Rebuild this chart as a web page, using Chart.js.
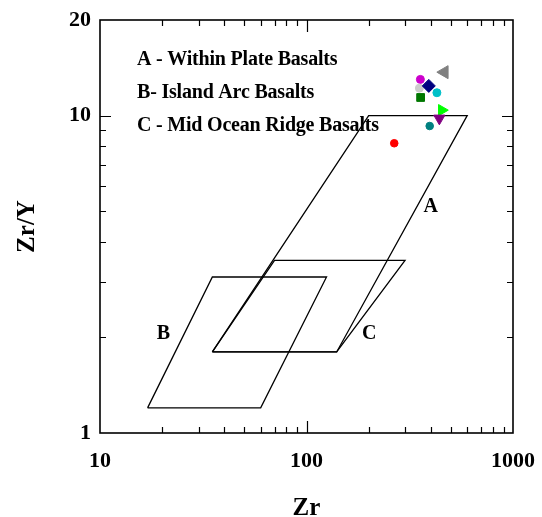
<!DOCTYPE html>
<html lang="en">
<head>
<meta charset="UTF-8">
<title>Zr/Y vs Zr</title>
<script src="https://cdn.jsdelivr.net/npm/chart.js@4"></script>
<style>
html,body{margin:0;padding:0;background:#fff}
#wrap{position:relative;width:542px;height:517px}
</style>
</head>
<body>
<div id="wrap"><canvas id="chart"></canvas></div>
<script>
// samples: Zr (ppm) and Zr/Y
const sampleZr  = [465, 356, 352, 391, 428, 357, 452, 440, 395, 266];
const sampleZrY = [13.7, 13.0, 12.2, 12.4, 11.8, 11.4, 10.4, 9.8, 9.27, 8.18];

// discrimination fields, closed outlines
const fieldAZr  = [35, 140, 600, 200, 35];
const fieldAZrY = [1.8, 1.8, 10, 10, 1.8];
const fieldBZr  = [17, 60, 125, 35, 17];
const fieldBZrY = [1.2, 1.2, 3.1, 3.1, 1.2];
const fieldCZr  = [35, 140, 300, 70, 35];
const fieldCZrY = [1.8, 1.8, 3.5, 3.5, 1.8];

// field letters and where they sit (data units)
const fieldNames = ['A', 'B', 'C'];
const fieldNameZr  = [400, 20.3, 201];
const fieldNameZrY = [5.17, 2.05, 2.05];
const fieldKey = ['A - Within Plate Basalts', 'B- Island Arc Basalts', 'C - Mid Ocean Ridge Basalts'];

const xTicks = [10, 100, 1000];
const yTicks = [1, 10, 20];

// marker look per sample
const sampleShape = ['triangle', 'circle', 'circle', 'rectRot', 'circle', 'rect', 'triangle', 'triangle', 'circle', 'circle'];
const sampleRot   = [-90, 0, 0, 0, 0, 0, 90, 180, 0, 0];
const sampleColor = ['#808080', '#cc00cc', '#cccccc', '#000080', '#00c0c8', '#007800', '#00ff00', '#800080', '#008080', '#ff0000'];
const sampleSize  = [7.5, 4, 4, 6.5, 4, 5.5, 6.5, 6.5, 3.8, 3.8];

const SERIF = '"Liberation Serif", "Times New Roman", serif';

function outline(xs, ys) {
  return {
    type: 'scatter',
    data: xs.map((v, i) => ({x: v, y: ys[i]})),
    showLine: true,
    borderColor: '#000',
    borderWidth: 1.3,
    pointRadius: 0,
    fill: false,
    tension: 0,
    order: 1
  };
}

// keep the plot box fixed: no extra room for overhanging labels
function noPad(s) {
  s.paddingLeft = 0; s.paddingRight = 0;
  s.paddingTop = 0; s.paddingBottom = 0;
}

// frame, inward log ticks, field letters and the key
const decor = {
  id: 'decor',
  afterDatasetsDraw(chart) {
    const {ctx, chartArea: a, scales: {x, y}} = chart;
    ctx.save();
    ctx.strokeStyle = '#000';
    ctx.lineWidth = 1.2;
    ctx.beginPath();
    for (const d of [10, 100]) {
      for (let k = 1; k <= 9; k++) {
        const v = k * d;
        if (v === 10) continue;
        const px = Math.round(x.getPixelForValue(v)) + 0.5;
        const len = k === 1 ? 12 : 6;
        ctx.moveTo(px, a.bottom); ctx.lineTo(px, a.bottom - len);
        ctx.moveTo(px, a.top); ctx.lineTo(px, a.top + len);
      }
    }
    for (let k = 2; k <= 10; k++) {
      const py = Math.round(y.getPixelForValue(k)) + 0.5;
      const len = k === 10 ? 11 : 6;
      ctx.moveTo(a.left, py); ctx.lineTo(a.left + len, py);
      ctx.moveTo(a.right, py); ctx.lineTo(a.right - len, py);
    }
    ctx.stroke();
    ctx.lineWidth = 1.6;
    ctx.strokeRect(a.left, a.top, a.right - a.left, a.bottom - a.top);

    ctx.fillStyle = '#000';
    ctx.font = 'bold 20px ' + SERIF;
    ctx.textAlign = 'center';
    ctx.textBaseline = 'middle';
    fieldNames.forEach((t, i) => {
      ctx.fillText(t, x.getPixelForValue(fieldNameZr[i]), y.getPixelForValue(fieldNameZrY[i]));
    });

    ctx.textAlign = 'left';
    ctx.textBaseline = 'alphabetic';
    if ('letterSpacing' in ctx) ctx.letterSpacing = '-0.2px';
    fieldKey.forEach((t, i) => ctx.fillText(t, a.left + 37, a.top + 45 + i * 33));
    ctx.restore();
  }
};

new Chart(document.getElementById('chart'), {
  data: {
    datasets: [
      {
        type: 'scatter',
        data: sampleZr.map((v, i) => ({x: v, y: sampleZrY[i]})),
        pointStyle: sampleShape,
        pointRotation: sampleRot,
        pointRadius: sampleSize,
        pointBackgroundColor: sampleColor,
        pointBorderColor: sampleColor,
        pointBorderWidth: 1,
        order: 0
      },
      outline(fieldAZr, fieldAZrY),
      outline(fieldBZr, fieldBZrY),
      outline(fieldCZr, fieldCZrY)
    ]
  },
  options: {
    responsive: true,
    maintainAspectRatio: false,
    animation: false,
    layout: {padding: {top: 20, right: 29, left: 0, bottom: 0}},
    plugins: {legend: {display: false}, tooltip: {enabled: false}},
    scales: {
      x: {
        type: 'logarithmic',
        position: 'bottom',
        min: 10,
        max: 1000,
        afterBuildTicks: s => { s.ticks = xTicks.map(v => ({value: v})); },
        afterFit: s => { s.height = 84; noPad(s); },
        grid: {display: false, drawTicks: false},
        border: {display: false},
        ticks: {
          padding: 15, color: '#000', autoSkip: false, maxRotation: 0,
          font: {family: SERIF, size: 22, weight: 'bold'},
          callback: v => String(v)
        },
        title: {
          display: true, text: 'Zr', color: '#000',
          font: {family: SERIF, size: 25, weight: 'bold', lineHeight: 0.7},
          padding: {top: 0, bottom: 0}
        }
      },
      y: {
        type: 'logarithmic',
        position: 'left',
        min: 1,
        max: 20,
        afterBuildTicks: s => { s.ticks = yTicks.map(v => ({value: v})); },
        afterFit: s => { s.width = 100; noPad(s); },
        grid: {display: false, drawTicks: false},
        border: {display: false},
        ticks: {
          padding: 9, color: '#000', autoSkip: false,
          font: {family: SERIF, size: 22, weight: 'bold'},
          callback: v => String(v)
        },
        title: {
          display: true, text: 'Zr/Y', color: '#000',
          font: {family: SERIF, size: 25, weight: 'bold', lineHeight: 1},
          padding: {top: 15, bottom: 0}
        }
      }
    }
  },
  plugins: [decor]
});
</script>
</body>
</html>
